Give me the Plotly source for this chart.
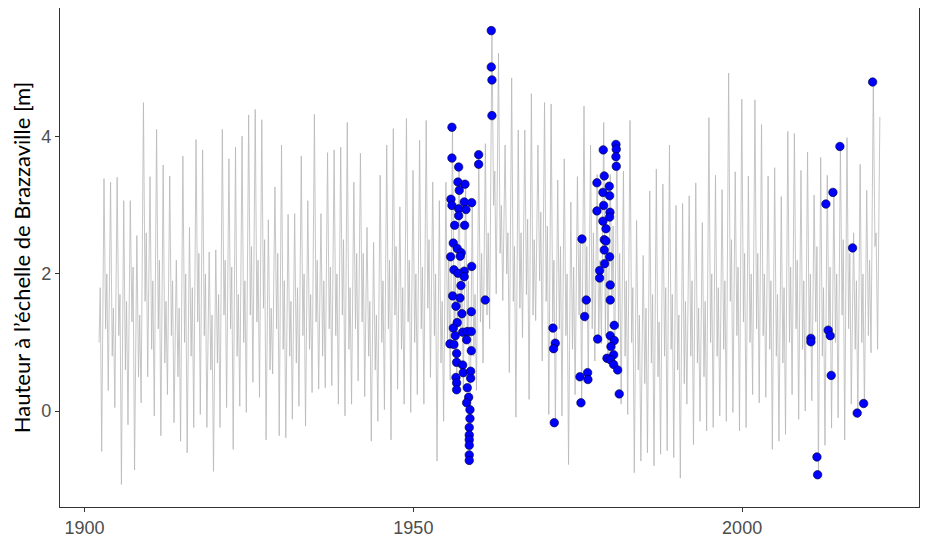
import plotly.graph_objects as go

# ---------------- data ----------------
years = list(range(1902, 2021))

# December (main) flood peak of each year [m]
peak_dec = [
    3.39, 3.34, 3.41, 3.07, 3.07, 2.56, 4.50, 3.42, 4.11, 3.59, 3.43, 2.20, 3.72, 2.68, 3.96, 3.81, 2.32, 2.35, 4.11,
    3.68, 3.85, 4.01, 4.32, 4.40, 4.25, 2.79, 3.27, 3.88, 2.87, 2.88, 3.72, 3.07, 4.33, 2.88, 3.77, 3.81, 3.85, 4.21, 3.34,
    3.76, 2.68, 2.46, 3.44, 3.88, 4.12, 2.98, 4.27, 3.51, 3.95, 4.24, 3.34, 3.07, 3.34, 4.14, 3.56, 3.32, 3.07, 3.74, 3.90, 5.55,
    5.22, 3.88, 4.86, 4.10, 4.10, 4.63, 3.88, 4.50, 4.48, 3.37, 3.68, 3.05, 3.42, 4.45, 3.88, 3.45, 4.21, 3.45, 3.89,
    3.50, 4.24, 2.78, 2.27, 3.21, 3.53, 3.31, 3.88, 3.00, 3.03, 3.14, 3.33, 2.75, 4.28, 3.44, 3.23, 4.93, 3.49, 4.55, 3.43,
    4.54, 4.18, 3.43, 3.55, 3.13, 4.08, 4.05, 3.51, 3.78, 3.15, 3.70, 3.44, 3.25, 3.86, 3.99, 2.60, 3.60, 3.22, 4.80, 4.29,
]

# August (main) low-water of each year [m]
low_aug = [
    -0.59, 0.30, 0.05, -1.07, -0.20, -0.86, 0.12, 0.50, -0.07, -0.36, 0.24, -0.17, -0.44, -0.61, -0.24, -0.05, -0.24, -0.88, -0.24, 0.05,
    -0.56, 0.07, -0.02, 0.42, 0.20, -0.42, 0.54, -0.36, -0.39, -0.12, 0.07, -0.22, 0.27, 0.32, 0.34, 0.37, 0.10, -0.07, 0.10, 0.44,
    0.21, -0.44, -0.15, 0.02, -0.42, 0.32, 0.10, -0.02, 0.24, 0.10, 0.49, -0.73, -0.15, 0.45, 0.30, 0.35, -0.72, 0.30, 0.70, 1.20,
    1.71, 1.61, 0.56, -0.09, 1.07, 0.17, 1.32, 0.73, -0.05, -0.20, -0.07, -0.78, 0.24, 0.12, 0.44, 0.73, 0.98, 0.83, 0.59, 0.10,
    -0.05, -0.90, -0.73, -0.61, -0.80, -0.63, -0.58, -0.68, -0.98, 0.10, -0.49, -0.15, -0.29, -0.24, -0.07, -0.15, -0.02, -0.29, -0.24, 0.24,
    0.12, 0.20, -0.56, -0.44, -0.34, 0.24, -0.12, 0.00, 0.15, -0.93,
    -0.50, -0.25, -0.10, -0.42, 0.10, -0.10, 0.05, 0.85, 0.90,
]

# March (secondary) low of each year [m]
low_mar = [
    1.0, 1.2, 0.8, 1.1, 0.6, 1.3, 0.5, 1.6, 0.9, 1.2, 0.7, 1.1, 0.5, 1.0, 0.8, 1.3, 1.1, 0.6, 0.7, 1.4,
    1.2, 0.8, 1.0, 1.4, 1.3, 1.5, 0.6, 1.2, 0.9, 0.8, 0.7, 1.1, 0.9, 1.3, 0.8, 1.2, 1.1, 1.4, 0.9, 1.2,
    1.3, 0.8, 0.6, 1.0, 1.2, 1.4, 0.9, 1.3, 1.0, 1.2, 1.5, 1.1, 0.7, 1.0, 1.2, 1.1, 1.0, 0.8, 1.3, 1.4,
    3.0, 2.3, 2.0, 1.6, 1.5, 1.7, 1.4, 1.9, 1.6, 1.3, 1.2, 1.1, 0.9, 1.4, 1.3, 1.2, 1.0, 1.1, 1.6, 1.2,
    0.8, 1.0, 0.6, 0.4, 0.7, 0.5, 0.8, 0.9, 0.6, 0.4, 0.8, 0.7, 0.5, 1.0, 0.8, 0.9, 1.6, 1.1, 1.3, 1.0,
    1.2, 1.1, 0.9, 0.8, 0.7, 1.0, 1.2, 0.9, 1.0, 1.3, 0.8, 1.1, 1.0, 1.4, 1.2, 0.9, 1.0, 1.1, 2.4,
]

# May (secondary) high of each year [m]
high_may = [
    1.8, 2.0, 1.5, 1.7, 1.6, 2.1, 1.4, 2.6, 1.9, 2.2, 1.6, 1.9, 1.5, 2.0, 1.8, 2.3, 2.0, 1.4, 1.7, 2.2,
    2.1, 1.7, 1.9, 2.4, 2.2, 2.5, 1.5, 2.3, 1.9, 1.6, 1.8, 2.0, 1.7, 2.2, 1.9, 2.1, 2.0, 2.5, 1.8, 2.3,
    2.3, 1.6, 1.4, 1.9, 2.2, 2.4, 1.8, 2.2, 2.0, 2.1, 2.5, 2.0, 1.6, 2.2, 2.1, 2.0, 1.9, 1.7, 2.3, 2.6,
    3.5, 3.0, 2.6, 2.4, 2.6, 2.8, 2.5, 2.9, 2.7, 2.2, 2.4, 2.0, 2.1, 2.5, 2.4, 2.6, 2.2, 2.4, 2.7, 2.3,
    1.9, 1.8, 1.4, 1.5, 1.7, 1.3, 1.8, 1.7, 1.4, 1.6, 1.9, 1.5, 1.6, 2.0, 1.8, 1.9, 2.5, 2.1, 2.3, 2.0,
    2.3, 2.0, 1.9, 1.7, 1.8, 2.1, 2.2, 1.9, 2.0, 2.4, 1.8, 2.1, 2.0, 2.5, 2.3, 1.9, 2.0, 2.2, 2.6,
]

# observed points (blue)
obs_date = [
    1955.87, 1955.87, 1956.89, 1956.78, 1957.85, 1956.98, 1955.72, 1955.87, 1957.74, 1958.87,
    1956.89, 1958.00, 1956.89, 1956.28, 1957.80, 1956.07, 1956.67, 1957.28, 1955.67, 1957.13,
    1956.17, 1957.74, 1956.78, 1957.74, 1958.87, 1957.24, 1955.97, 1957.09, 1956.48, 1958.81,
    1957.39, 1956.67, 1956.07, 1956.37, 1957.50, 1958.20, 1958.81, 1958.10, 1955.57, 1956.17,
    1958.81, 1956.58, 1956.58, 1957.50, 1957.59, 1958.71, 1958.71, 1956.48, 1956.58, 1956.58,
    1958.20, 1958.41, 1958.10, 1958.61, 1958.61, 1958.50, 1958.50, 1958.50, 1958.50, 1958.50,
    1958.50, 1959.93, 1959.93, 1960.93, 1961.85, 1961.85, 1961.95, 1961.95,
    1971.23, 1971.58, 1971.33, 1971.43,
    1975.64, 1976.30, 1976.05, 1975.33, 1976.50, 1976.55, 1975.49,
    1978.88, 1977.92, 1979.03, 1979.79, 1978.83, 1979.85, 1977.92, 1978.94, 1979.90, 1979.85,
    1978.83, 1979.29, 1979.03, 1979.29, 1979.03, 1979.85, 1979.09, 1978.33, 1978.33, 1979.94,
    1979.94, 1980.55, 1978.03, 1979.94, 1980.55, 1980.05, 1980.46, 1979.44, 1979.94, 1980.46,
    1981.07, 1981.31, 1980.81, 1980.86, 1980.81, 1980.86,
    2010.46, 2010.46, 2011.38, 2011.48, 2012.74, 2013.09, 2013.40, 2013.55, 2013.81, 2014.87,
    2016.80, 2017.50, 2018.48, 2019.85,
]
obs_height = [
    4.14, 3.69, 3.56, 3.34, 3.31, 3.22, 3.09, 3.00, 3.05, 3.04,
    2.95, 2.94, 2.85, 2.71, 2.71, 2.45, 2.37, 2.31, 2.25, 2.26,
    2.06, 2.04, 2.01, 1.96, 2.11, 1.83, 1.68, 1.65, 1.53, 1.45,
    1.42, 1.29, 1.21, 1.10, 1.15, 1.16, 1.16, 1.04, 0.98, 0.97,
    0.88, 0.84, 0.71, 0.67, 0.56, 0.58, 0.48, 0.49, 0.41, 0.31,
    0.34, 0.20, 0.12, 0.02, -0.11, -0.24, -0.35, -0.42, -0.50, -0.64,
    -0.72, 3.74, 3.60, 1.62, 5.55, 5.02, 4.83, 4.31,
    1.21, 0.99, 0.91, -0.17,
    2.51, 1.62, 1.38, 0.50, 0.56, 0.46, 0.12,
    3.81, 3.33, 3.43, 3.28, 3.19, 3.14, 2.92, 3.00, 2.90, 2.83,
    2.77, 2.66, 2.50, 2.48, 2.35, 2.25, 2.15, 2.05, 1.94, 1.84,
    1.62, 1.25, 1.05, 1.10, 1.03, 0.94, 0.82, 0.77, 0.75, 0.68,
    0.60, 0.25, 3.89, 3.82, 3.71, 3.57,
    1.06, 1.01, -0.67, -0.93, 3.02, 1.18, 1.10, 0.52, 3.19, 3.86,
    2.38, -0.03, 0.11, 4.80,
]

# month positions within a year (Mar, May, Aug, Dec)
month_frac = [0.20, 0.38, 0.60, 0.95]

line_t, line_h = [], []
for i, y in enumerate(years):
    vals = [low_mar[i], high_may[i], low_aug[i], peak_dec[i]]
    for f, v in zip(month_frac, vals):
        line_t.append(y + f)
        line_h.append(v)

fig = go.Figure()
fig.add_trace(go.Scatter(
    x=line_t, y=line_h, mode="lines",
    line=dict(color="#b8b8b8", width=0.8),
    hoverinfo="skip", showlegend=False,
))
fig.add_trace(go.Scatter(
    x=obs_date, y=obs_height, mode="markers",
    marker=dict(color="#0000ff", size=8.5, line=dict(color="#000033", width=0.6)),
    showlegend=False,
))

axis_font = dict(family="Liberation Sans, Arial, sans-serif", size=18, color="#4d4d4d")
fig.update_layout(
    width=920, height=532,
    margin=dict(l=52, r=9, t=0, b=33, autoexpand=False),
    paper_bgcolor="white", plot_bgcolor="white",
    xaxis=dict(
        range=[1896.26, 2026.9],
        tickvals=[1900, 1950, 2000], ticktext=["1900", "1950", "2000"],
        ticks="outside", ticklen=4, tickwidth=1, tickcolor="#333333",
        showgrid=False, zeroline=False,
        showline=True, mirror=True, linecolor="#333333", linewidth=1.3,
        tickfont=axis_font,
    ),
    yaxis=dict(
        range=[-1.40, 5.88],
        tickvals=[0, 2, 4], ticktext=["0", "2", "4"],
        ticks="outside", ticklen=4, tickwidth=1, tickcolor="#333333",
        showgrid=False, zeroline=False,
        showline=True, mirror=True, linecolor="#333333", linewidth=1.3,
        tickfont=axis_font,
        title=dict(text="Hauteur à l’échelle de Brazzaville [m]",
                   font=dict(family="Lato, Open Sans, sans-serif", size=22, color="#000000"),
                   standoff=7),
    ),
)

fig.write_html("out.html")
